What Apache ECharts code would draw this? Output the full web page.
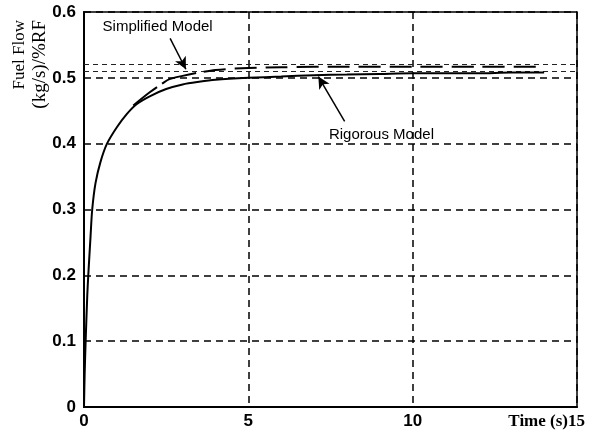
<!DOCTYPE html>
<html>
<head>
<meta charset="utf-8">
<script src="https://cdn.jsdelivr.net/npm/echarts@6/dist/echarts.min.js"></script>
<style>html,body{margin:0;padding:0;background:#fff}#c{width:589px;height:439px}</style>
</head>
<body>
<div id="c"></div>
<script>
// Time (s) and fuel flow values
var rigorousT = [0, 0.02, 0.05, 0.1, 0.13, 0.2, 0.25, 0.35, 0.5, 0.7, 1.0, 1.3, 1.6, 2.0, 2.5, 3.0, 3.5, 4.0, 5.0, 6.0, 7.0, 8.0, 9.0, 10.0, 11.0, 12.0, 13.0, 14.0];
var rigorousY = [0, 0.05, 0.1, 0.17, 0.2, 0.26, 0.3, 0.34, 0.372, 0.4, 0.425, 0.445, 0.46, 0.472, 0.483, 0.49, 0.494, 0.497, 0.5, 0.502, 0.504, 0.505, 0.506, 0.507, 0.507, 0.507, 0.508, 0.508];
var simplifiedT = [1.5, 2.0, 2.4, 2.6, 3.0, 3.5, 4.0, 5.0, 6.0, 8.0, 10.0, 12.0, 14.0];
var simplifiedY = [0.458, 0.478, 0.492, 0.498, 0.503, 0.508, 0.512, 0.515, 0.516, 0.517, 0.517, 0.517, 0.517];
var refLines = [0.514, 0.52];
var xTicks = [0, 5, 10, 15];
var yTicks = [0, 0.1, 0.2, 0.3, 0.4, 0.5, 0.6];
var simpLabelPos = [2.24, 0.577];
var simpArrow = [[2.62, 0.56], [3.1, 0.513]];
var rigLabelPos = [9.05, 0.413];
var rigArrow = [[7.93, 0.434], [7.13, 0.502]];

function pairs(t, y) { return t.map(function (v, i) { return [v, y[i]]; }); }

var simpDash = [30, 6, 36, 8];
for (var k = 0; k < 16; k++) { simpDash.push(22, 9); }

var chart = echarts.init(document.getElementById('c'));
chart.setOption({
  backgroundColor: '#fff',
  animation: false,
  grid: { left: 84, right: 12, top: 12, bottom: 32, show: true, borderColor: '#000', borderWidth: 1.5 },
  xAxis: {
    type: 'value', min: xTicks[0], max: xTicks[xTicks.length - 1], interval: 5,
    axisLine: { lineStyle: { color: '#000', width: 2 } },
    axisTick: { show: false },
    splitLine: { show: true, lineStyle: { color: '#000', type: [7, 5], width: 1.5 } },
    axisLabel: {
      color: '#000', fontWeight: 'bold', fontSize: 17, fontFamily: 'Liberation Sans', margin: 6,
      formatter: function (v) { return v === 15 ? '' : String(v); }
    },
    name: 'Time (s)15', nameLocation: 'end', nameGap: 8,
    nameTextStyle: { color: '#000', fontWeight: 'bold', fontSize: 17, fontFamily: 'Liberation Serif', align: 'right', verticalAlign: 'top', padding: [6, 0, 0, 0] }
  },
  yAxis: {
    type: 'value', min: yTicks[0], max: yTicks[yTicks.length - 1], interval: 0.1,
    axisLine: { show: true, lineStyle: { color: '#000', width: 2 } },
    axisTick: { show: false },
    splitLine: { show: true, lineStyle: { color: '#000', type: [7, 5], width: 1.5 } },
    axisLabel: {
      color: '#000', fontWeight: 'bold', fontSize: 17, fontFamily: 'Liberation Sans', margin: 8,
      formatter: function (v) { return v === 0 ? '0' : v.toFixed(1); }
    }
  },
  graphic: [{
    type: 'text', x: 9, y: 20, rotation: Math.PI / 2,
    style: {
      text: '{a|Fuel Flow}\n{b|(kg/s)/%RF}', fill: '#000', align: 'right', verticalAlign: 'top',
      rich: {
        a: { font: '17px "Liberation Serif"', lineHeight: 21, fill: '#000' },
        b: { font: '19px "Liberation Serif"', lineHeight: 21, fill: '#000' }
      }
    }
  }],
  series: [{
    type: 'line', name: 'Rigorous Model', data: pairs(rigorousT, rigorousY), showSymbol: false, smooth: 0.3,
    lineStyle: { color: '#000', width: 2 }, z: 5,
    markLine: {
      silent: true, symbol: ['none', 'none'], label: { show: false },
      lineStyle: { color: '#222', type: [5, 4], width: 1 },
      data: refLines.map(function (v) { return { yAxis: v }; })
    },
    markPoint: {
      symbol: 'rect', symbolSize: 0,
      label: { show: true, position: 'inside', color: '#000', fontSize: 15, fontFamily: 'Liberation Sans', formatter: '{b}' },
      data: [{ name: 'Simplified Model', coord: simpLabelPos }, { name: 'Rigorous Model', coord: rigLabelPos }]
    }
  }, {
    type: 'line', name: 'Simplified Model', data: pairs(simplifiedT, simplifiedY), showSymbol: false, smooth: 0.3,
    lineStyle: { color: '#000', width: 2, type: simpDash }, z: 6,
    markLine: {
      silent: true, symbol: ['none', 'arrow'], symbolSize: [9, 12], label: { show: false },
      lineStyle: { color: '#000', type: 'solid', width: 1.5 },
      data: [
        [{ coord: simpArrow[0] }, { coord: simpArrow[1] }],
        [{ coord: rigArrow[0] }, { coord: rigArrow[1] }]
      ]
    }
  }]
});
</script>
</body>
</html>
